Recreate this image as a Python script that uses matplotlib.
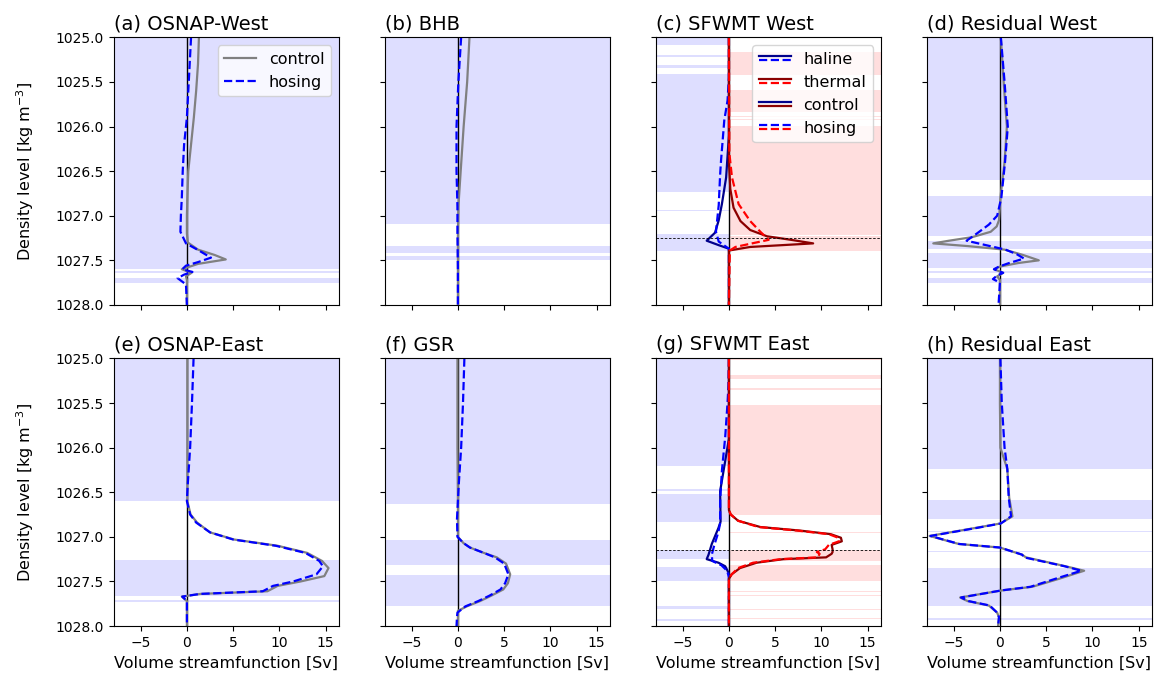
#!/usr/bin/env python
import matplotlib
matplotlib.use('Agg')
import matplotlib.pyplot as plt
from matplotlib.lines import Line2D
from matplotlib.legend_handler import HandlerBase


XLIM = (-7.9, 16.4)
YLIM = (1028.0, 1025.0)

titles = ['(a) OSNAP-West', '(b) BHB', '(c) SFWMT West', '(d) Residual West',
          '(e) OSNAP-East', '(f) GSR', '(g) SFWMT East', '(h) Residual East']

# ---- (a) OSNAP-West
rho_a_ctl = [1025.0, 1025.3, 1025.6, 1025.9, 1026.2, 1026.5, 1026.8, 1027.0, 1027.2, 1027.3,
             1027.38, 1027.44, 1027.49, 1027.54, 1027.6, 1027.64, 1027.68, 1027.72, 1028.0]
psi_a_ctl = [1.3, 1.2, 1.0, 0.75, 0.45, 0.15, 0.05, 0.0, 0.0, 0.1,
             1.2, 3.0, 4.2, 1.2, -0.55, 0.5, -0.1, 0.0, 0.0]
rho_a_hos = [1025.0, 1025.3, 1025.6, 1025.9, 1026.2, 1026.5, 1026.8, 1027.0, 1027.18, 1027.31,
             1027.39, 1027.47, 1027.52, 1027.56, 1027.6, 1027.63, 1027.66, 1027.7, 1027.77, 1028.0]
psi_a_hos = [0.45, 0.3, 0.15, 0.0, -0.3, -0.45, -0.55, -0.65, -0.7, -0.1,
             1.3, 2.6, 1.2, -0.1, -0.5, 0.6, -0.3, -1.0, -0.1, 0.0]
bands_a = [(1025.0, 1027.595), (1027.62, 1027.645), (1027.695, 1027.75)]

# ---- (b) BHB
rho_b = [1025.0, 1025.5, 1026.0, 1026.5, 1026.9, 1027.2, 1027.6, 1028.0]
psi_b_ctl = [1.25, 1.0, 0.62, 0.3, 0.05, 0.0, 0.0, 0.0]
psi_b_hos = [0.35, 0.05, -0.15, -0.15, -0.05, -0.05, 0.0, 0.0]
bands_b = [(1025.0, 1027.09), (1027.34, 1027.42), (1027.45, 1027.50)]

# ---- (c) SFWMT West
rho_c_hal_ctl = [1025.0, 1026.1, 1026.57, 1026.87, 1027.05, 1027.19, 1027.28, 1027.33, 1027.37, 1028.0]
psi_c_hal_ctl = [0.0, 0.0, -0.3, -0.76, -1.1, -1.5, -2.4, -1.1, 0.0, 0.0]
rho_c_hal_hos = [1025.0, 1025.45, 1025.71, 1025.93, 1026.38, 1026.54, 1026.88, 1027.18, 1027.29, 1027.37, 1028.0]
psi_c_hal_hos = [0.0, 0.0, -0.15, -0.5, -0.85, -0.95, -1.1, -1.4, -1.1, 0.0, 0.0]
rho_c_th_ctl = [1025.0, 1026.4, 1026.7, 1026.91, 1027.06, 1027.16, 1027.23, 1027.27, 1027.31, 1027.35, 1027.39, 1028.0]
psi_c_th_ctl = [0.0, 0.0, 0.15, 0.5, 1.25, 2.3, 4.1, 6.7, 9.1, 2.3, 0.0, 0.0]
rho_c_th_hos = [1025.0, 1026.3, 1026.57, 1026.87, 1027.06, 1027.18, 1027.27, 1027.35, 1027.39, 1028.0]
psi_c_th_hos = [0.0, 0.05, 0.33, 1.05, 2.3, 3.4, 4.3, 0.7, 0.1, 0.0]
bands_c_hal = [(1025.0, 1025.087), (1025.20, 1025.22), (1025.31, 1025.34), (1025.41, 1026.73),
               (1026.94, 1026.95), (1027.21, 1027.39)]
bands_c_th = [(1025.16, 1025.42), (1025.59, 1025.84), (1025.885, 1025.895), (1025.915, 1025.925),
              (1025.955, 1025.965), (1025.99, 1027.215), (1027.23, 1027.39)]
ref_c = 1027.245

# ---- (d) Residual West
rho_d_ctl = [1025.0, 1025.5, 1026.0, 1026.4, 1026.8, 1027.05, 1027.12, 1027.18, 1027.24, 1027.28, 1027.31,
             1027.34, 1027.38, 1027.44, 1027.5, 1027.53, 1027.57, 1027.6, 1027.64, 1027.68, 1027.72, 1028.0]
psi_d_ctl = [0.1, 0.4, 0.75, 0.5, 0.05, -0.1, -0.35, -1.0, -3.0, -5.5, -7.2,
             -3.5, 0.5, 2.5, 4.2, 2.0, 0.0, -0.6, 0.35, -0.3, 0.0, 0.0]
rho_d_hos = [1025.0, 1025.5, 1026.0, 1026.4, 1026.8, 1027.0, 1027.1, 1027.2, 1027.28, 1027.33, 1027.38,
             1027.43, 1027.48, 1027.53, 1027.57, 1027.6, 1027.64, 1027.67, 1027.71, 1027.75, 1028.0]
psi_d_hos = [0.1, 0.5, 0.85, 0.55, 0.15, -0.3, -1.2, -2.5, -3.6, -1.5, 0.6,
             1.8, 2.6, 1.0, -0.1, -0.65, 0.35, -0.3, -0.75, 0.0, -0.15]
bands_d = [(1025.0, 1026.60), (1026.78, 1027.23), (1027.28, 1027.375), (1027.42, 1027.59),
           (1027.62, 1027.64), (1027.70, 1027.75)]

# ---- (e) OSNAP-East
rho_e_ctl = [1025.0, 1026.0, 1026.6, 1026.75, 1026.84, 1026.95, 1027.03, 1027.10, 1027.18, 1027.27,
             1027.35, 1027.44, 1027.50, 1027.55, 1027.61, 1027.64, 1027.67, 1027.72, 1028.0]
psi_e_ctl = [0.05, 0.05, 0.05, 0.4, 1.1, 2.5, 5.1, 9.8, 13.0, 14.6,
             15.3, 14.85, 12.3, 9.8, 8.7, 1.45, -0.55, 0.0, 0.0]
rho_e_hos = [1025.0, 1025.5, 1026.0, 1026.4, 1026.6, 1026.75, 1026.84, 1026.95, 1027.03, 1027.10, 1027.18,
             1027.27, 1027.33, 1027.42, 1027.50, 1027.55, 1027.61, 1027.64, 1027.67, 1027.72, 1028.0]
psi_e_hos = [0.72, 0.55, 0.35, 0.1, 0.0, 0.35, 1.0, 2.5, 5.0, 9.6, 12.8,
             14.3, 14.7, 14.0, 11.5, 9.3, 8.2, 1.4, -0.5, 0.0, 0.0]
bands_e = [(1025.0, 1026.60), (1027.26, 1027.66), (1027.71, 1027.73)]

# ---- (f) GSR
rho_f_ctl = [1025.0, 1026.0, 1026.6, 1027.0, 1027.07, 1027.12, 1027.18, 1027.23, 1027.3, 1027.42,
             1027.52, 1027.59, 1027.66, 1027.72, 1027.78, 1027.83, 1028.0]
psi_f_ctl = [-0.05, -0.05, 0.0, 0.0, 0.6, 1.3, 2.8, 4.2, 5.2, 5.65,
             5.4, 4.9, 3.6, 2.4, 0.95, 0.0, 0.0]
rho_f_hos = [1025.0, 1025.5, 1026.0, 1026.4, 1026.6, 1026.8, 1027.0, 1027.07, 1027.12, 1027.18, 1027.23,
             1027.3, 1027.42, 1027.52, 1027.59, 1027.66, 1027.72, 1027.78, 1027.85, 1027.9, 1028.0]
psi_f_hos = [0.7, 0.55, 0.35, 0.1, 0.0, -0.1, -0.05, 0.6, 1.3, 2.8, 4.0,
             5.0, 5.45, 5.1, 4.6, 3.4, 2.2, 0.8, -0.05, -0.1, -0.15]
bands_f = [(1025.0, 1026.63), (1027.03, 1027.32), (1027.43, 1027.78)]

# ---- (g) SFWMT East
rho_g_hal_ctl = [1025.0, 1025.9, 1026.26, 1026.49, 1026.83, 1026.90, 1027.08, 1027.2, 1027.25, 1027.29,
                 1027.33, 1027.41, 1028.0]
psi_g_hal_ctl = [0.0, 0.0, -0.58, -0.95, -0.9, -1.13, -1.85, -2.2, -2.4, -1.13,
                 -0.4, 0.0, 0.0]
rho_g_hal_hos = [1025.0, 1025.3, 1025.5, 1025.88, 1026.25, 1026.6, 1026.85, 1026.95, 1027.1, 1027.2,
                 1027.27, 1027.32, 1027.38, 1027.45, 1028.0]
psi_g_hal_hos = [0.0, -0.05, -0.15, -0.4, -0.75, -0.95, -0.95, -1.15, -1.6, -1.85,
                 -1.8, -0.8, -0.2, 0.0, 0.0]
rho_g_th = [1025.0, 1026.7, 1026.75, 1026.82, 1026.89, 1026.93, 1026.97, 1027.01, 1027.05, 1027.09,
            1027.14, 1027.17, 1027.19, 1027.23, 1027.25, 1027.29, 1027.35, 1027.42, 1027.47, 1028.0]
psi_g_th_ctl = [0.0, 0.0, 0.2, 1.0, 3.4, 7.7, 11.0, 12.1, 12.2, 11.1,
                11.2, 11.2, 11.1, 10.5, 5.9, 3.0, 1.2, 0.3, 0.0, 0.0]
psi_g_th_hos = [0.0, 0.0, 0.2, 1.0, 3.2, 7.4, 10.8, 11.8, 11.9, 10.8,
                10.4, 9.5, 9.8, 9.6, 5.6, 2.6, 1.0, 0.3, 0.0, 0.0]
bands_g_hal = [(1025.0, 1026.21), (1026.46, 1026.49), (1026.52, 1026.83), (1027.15, 1027.25),
               (1027.34, 1027.49), (1027.78, 1027.81), (1027.92, 1027.94)]
bands_g_th = [(1025.0, 1025.02), (1025.18, 1025.23), (1025.33, 1025.35), (1025.52, 1026.75),
              (1026.945, 1026.955), (1027.15, 1027.27), (1027.32, 1027.49), (1027.605, 1027.615),
              (1027.655, 1027.665), (1027.805, 1027.815), (1027.915, 1027.925)]
ref_g = 1027.15

# ---- (h) Residual East
rho_h = [1025.0, 1025.5, 1026.0, 1026.24, 1026.56, 1026.77, 1026.85, 1026.9, 1026.99, 1027.08, 1027.12,
         1027.2, 1027.23, 1027.33, 1027.38, 1027.47, 1027.56, 1027.6, 1027.68, 1027.72, 1027.77,
         1027.85, 1027.9, 1028.0]
psi_h_ctl = [0.0, 0.0, 0.05, 0.8, 1.0, 1.35, 0.07, -2.65, -7.6, -4.45, 0.0,
             2.4, 2.8, 7.1, 9.1, 6.4, 3.5, 0.25, -4.3, -3.5, -1.2,
             -0.3, -0.1, -0.2]
psi_h_hos = [0.05, 0.2, 0.5, 0.8, 0.95, 1.2, 0.1, -2.5, -7.5, -4.4, 0.0,
             2.4, 2.6, 7.0, 8.8, 6.0, 3.3, 0.2, -4.2, -3.4, -1.1,
             -0.3, -0.1, -0.2]
bands_h = [(1025.0, 1026.24), (1026.59, 1026.80), (1026.935, 1026.945), (1027.155, 1027.165),
           (1027.35, 1027.78), (1027.91, 1027.93)]


class HandlerPair(HandlerBase):
    # two short lines stacked on top of each other
    def create_artists(self, legend, orig_handle, xdescent, ydescent,
                       width, height, fontsize, trans):
        out = []
        for k, h in enumerate(orig_handle):
            y = height / 2.0 - ydescent + (1.5 if k == 0 else -1.5)
            ln = Line2D([-xdescent, width - xdescent], [y, y], color=h.get_color(),
                        linestyle=h.get_linestyle(), linewidth=h.get_linewidth())
            ln.set_transform(trans)
            out.append(ln)
        return out


def Shade(ax, bands, color, side=None):
    f0 = (0 - XLIM[0]) / (XLIM[1] - XLIM[0])
    lo, hi = 0.0, 1.0
    if side == 'left':
        hi = f0
    elif side == 'right':
        lo = f0
    for top, bot in bands:
        ax.axhspan(top, bot, xmin=lo, xmax=hi, color=color, alpha=0.13, lw=0)


def TwoLines(ax, rc, pc, rh, ph):
    ax.plot(pc, rc, color='grey', lw=1.6, label='control')
    ax.plot(ph, rh, color='blue', lw=1.6, ls='--', label='hosing')


def SFWMT(ax, hal, th, ref):
    ax.plot(hal[1], hal[0], color='darkblue', lw=1.6)
    ax.plot(hal[3], hal[2], color='blue', lw=1.6, ls='--')
    ax.plot(th[1], th[0], color='darkred', lw=1.6)
    ax.plot(th[3], th[2], color='red', lw=1.6, ls='--')
    ax.axhline(ref, color='k', lw=0.6, ls=(0, (3, 2)))


plt.rc('font', size=10)
plt.rc('axes', titlesize=14, labelsize=11.5)
plt.rc('legend', fontsize=11.5)

fig, axs = plt.subplots(2, 4, figsize=(11.61, 6.79), dpi=100, sharex=True, sharey=True)
fig.subplots_adjust(left=0.098, right=0.992, top=0.945, bottom=0.078, wspace=0.205, hspace=0.2)
axs = axs.ravel()

for ax in axs:
    ax.axvline(0, color='k', lw=1)

Shade(axs[0], bands_a, 'blue')
TwoLines(axs[0], rho_a_ctl, psi_a_ctl, rho_a_hos, psi_a_hos)
axs[0].legend(loc='upper right')

Shade(axs[1], bands_b, 'blue')
TwoLines(axs[1], rho_b, psi_b_ctl, rho_b, psi_b_hos)

Shade(axs[2], bands_c_hal, 'blue', 'left')
Shade(axs[2], bands_c_th, 'red', 'right')
SFWMT(axs[2], (rho_c_hal_ctl, psi_c_hal_ctl, rho_c_hal_hos, psi_c_hal_hos),
      (rho_c_th_ctl, psi_c_th_ctl, rho_c_th_hos, psi_c_th_hos), ref_c)

Shade(axs[3], bands_d, 'blue')
TwoLines(axs[3], rho_d_ctl, psi_d_ctl, rho_d_hos, psi_d_hos)

Shade(axs[4], bands_e, 'blue')
TwoLines(axs[4], rho_e_ctl, psi_e_ctl, rho_e_hos, psi_e_hos)

Shade(axs[5], bands_f, 'blue')
TwoLines(axs[5], rho_f_ctl, psi_f_ctl, rho_f_hos, psi_f_hos)

Shade(axs[6], bands_g_hal, 'blue', 'left')
Shade(axs[6], bands_g_th, 'red', 'right')
SFWMT(axs[6], (rho_g_hal_ctl, psi_g_hal_ctl, rho_g_hal_hos, psi_g_hal_hos),
      (rho_g_th, psi_g_th_ctl, rho_g_th, psi_g_th_hos), ref_g)

Shade(axs[7], bands_h, 'blue')
TwoLines(axs[7], rho_h, psi_h_ctl, rho_h, psi_h_hos)

# legend for SFWMT panel
hal_c = Line2D([], [], color='darkblue', lw=1.6)
hal_h = Line2D([], [], color='blue', lw=1.6, ls='--')
th_c = Line2D([], [], color='darkred', lw=1.6)
th_h = Line2D([], [], color='red', lw=1.6, ls='--')
axs[2].legend([(hal_c, hal_h), (th_c, th_h), (hal_c, th_c), (hal_h, th_h)],
              ['haline', 'thermal', 'control', 'hosing'],
              handler_map={tuple: HandlerPair()}, loc='upper right')

for i, ax in enumerate(axs):
    ax.set_title(titles[i], loc='left')
    ax.set_xlim(XLIM)
    ax.set_ylim(YLIM)
    ax.set_xticks([-5, 0, 5, 10, 15])
    if i >= 4:
        ax.set_xlabel('Volume streamfunction [Sv]')
    if i % 4 == 0:
        ax.set_ylabel('Density level [kg m$^{-3}$]', labelpad=14)

plt.savefig('out.png', dpi=100)
